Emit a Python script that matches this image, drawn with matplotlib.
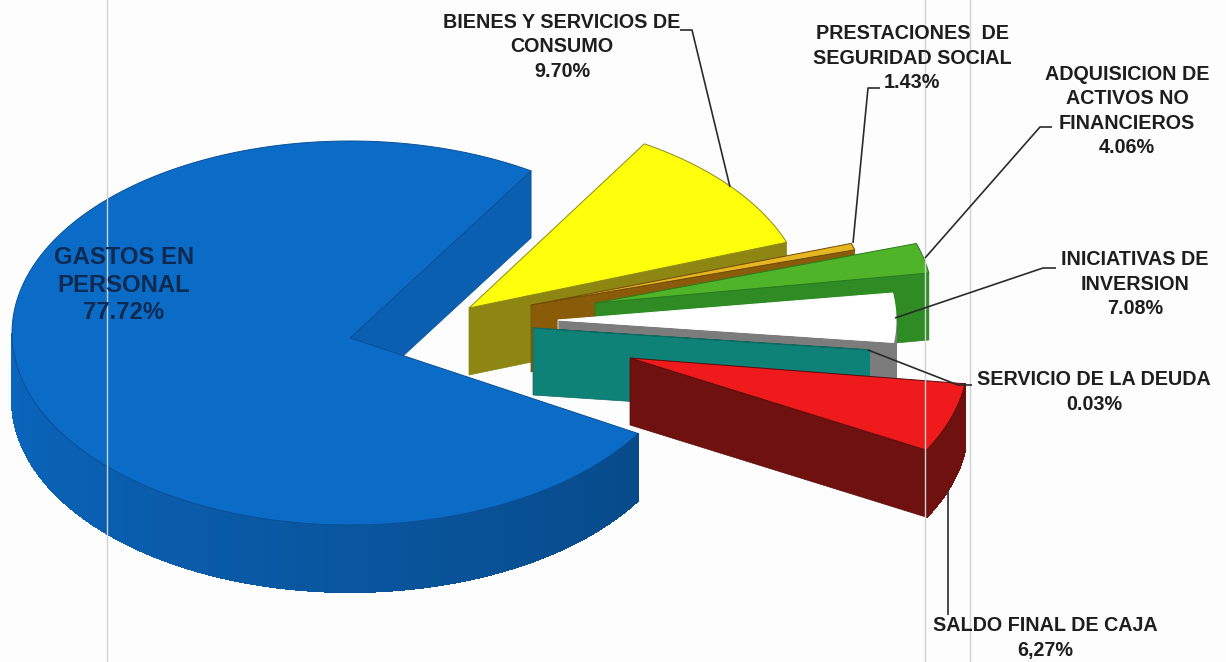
import matplotlib
matplotlib.use("Agg")
import matplotlib.pyplot as plt
from matplotlib.patches import Polygon
import numpy as np

# chart values
names = ["GASTOS EN\nPERSONAL", "BIENES Y SERVICIOS DE\nCONSUMO", "PRESTACIONES  DE\nSEGURIDAD SOCIAL",
         "ADQUISICION DE\nACTIVOS NO\nFINANCIEROS", "INICIATIVAS DE\nINVERSION",
         "SERVICIO DE LA DEUDA", "SALDO FINAL DE CAJA"]
percents = [77.72, 9.70, 1.43, 4.06, 7.08, 0.03, 6.27]
percent_text = ["77.72%", "9.70%", "1.43%", "4.06%", "7.08%", "0.03%", "6,27%"]

# layout, all in pixels of the 1226x662 picture
apex_x = [350, 469, 531, 595, 558, 533, 630]
apex_y = [338, 308, 305, 303, 320, 328, 358]
rim_shift = [-5, 0, 0, 0, 0, 0, 0]
first_angle = [57.6, 20, 16.7, 9, -6.7, -6.6, -28.7]
# the original's slices are not drawn quite to scale
stretch = [0.968, 1.11, 0.39, 0.62, 0.58, 1.0, 0.93]
top_colors = ["#0b6cc8", "#ffff0c", "#e6b522", "#4fb428", "#ffffff", "#0f8277", "#ee1a1c"]
wall_colors = ["#0a5fb0", "#8e8612", "#8a5c0a", "#2f8c24", "#7c7c7c", "#0f8277", "#6e110f"]
edge_colors = ["#0a4f96", "#8a8a10", "#6f4a08", "#2a7a20", "#ffffff", "#0c6a60", "#5a0c0a"]
label_x = [124, 562, 912, 1127, 1135, 1094, 1045]
label_y = [285, 47, 58, 111, 284, 392, 638]

rx, ry = 338, 192
depth = 67
bg = "#fdfdfd"


def rim(i, ang):
    a = np.radians(ang)
    return apex_x[i] + rx * np.cos(a), apex_y[i] + rim_shift[i] - ry * np.sin(a)


def draw_slice(ax, i):
    a1 = first_angle[i]
    a2 = a1 + percents[i] * 3.6 * stretch[i]
    # radial wall on the lower edge
    rx1, ry1 = rim(i, a1)
    wall = [(apex_x[i], apex_y[i]), (rx1, ry1), (rx1, ry1 + depth), (apex_x[i], apex_y[i] + depth)]
    ax.add_patch(Polygon(wall, fc=wall_colors[i], ec=edge_colors[i], lw=0.5))

    # outer wall, only where the rim faces the viewer
    angs = np.linspace(a1, a2, 160)
    front = angs[np.sin(np.radians(angs)) < 0]
    for j in range(len(front) - 1):
        x0, y0 = rim(i, front[j])
        x1, y1 = rim(i, front[j + 1])
        col = np.array(matplotlib.colors.to_rgb(wall_colors[i]))
        if i == 0:
            # blue wall gets darker towards the right
            t = (front[j] - 180) / 150
            col = col * (1.08 - 0.3 * t)
        col = np.clip(col, 0, 1)
        ax.add_patch(Polygon([(x0, y0), (x1, y1), (x1, y1 + depth), (x0, y0 + depth)],
                             fc=col, ec=col, lw=0.8, antialiased=False))

    # top face
    pts = [(apex_x[i], apex_y[i])] + [rim(i, a) for a in angs]
    ax.add_patch(Polygon(pts, fc=top_colors[i], ec=edge_colors[i], lw=0.7))


fig = plt.figure(figsize=(12.26, 6.62), dpi=100, facecolor=bg)
ax = fig.add_axes([0, 0, 1, 1])
ax.set_xlim(0, 1226)
ax.set_ylim(662, 0)
ax.axis("off")

# scan lines behind everything
for x in [107, 925, 970]:
    ax.plot([x, x], [0, 662], color="#d2d2d2", lw=1)

# back to front
for i in range(len(percents)):
    draw_slice(ax, i)

# leader lines
leaders = [
    ([680, 692, 730], [30, 30, 187]),
    ([880, 868, 853], [88, 88, 243]),
    ([1052, 1040, 925], [127, 127, 258]),
    ([1056, 1043, 895], [268, 268, 318]),
    ([972, 958, 868], [385, 385, 350]),
    ([948, 948], [615, 490]),
]
for xs, ys in leaders:
    ax.plot(xs, ys, color="#2b2b2b", lw=1.2, solid_capstyle="butt")

# labels
plt.rcParams["font.family"] = ["Liberation Sans", "DejaVu Sans"]
for i in range(len(names)):
    size = 17.2 if i == 0 else 14.2
    col = "#0e2a50" if i == 0 else "#1e1e1e"
    ax.text(label_x[i], label_y[i], names[i] + "\n" + percent_text[i], ha="center", va="center",
            fontsize=size, fontweight="bold", color=col, linespacing=1.36 if i else 1.25)

fig.savefig("out.png", dpi=100, facecolor=bg)
